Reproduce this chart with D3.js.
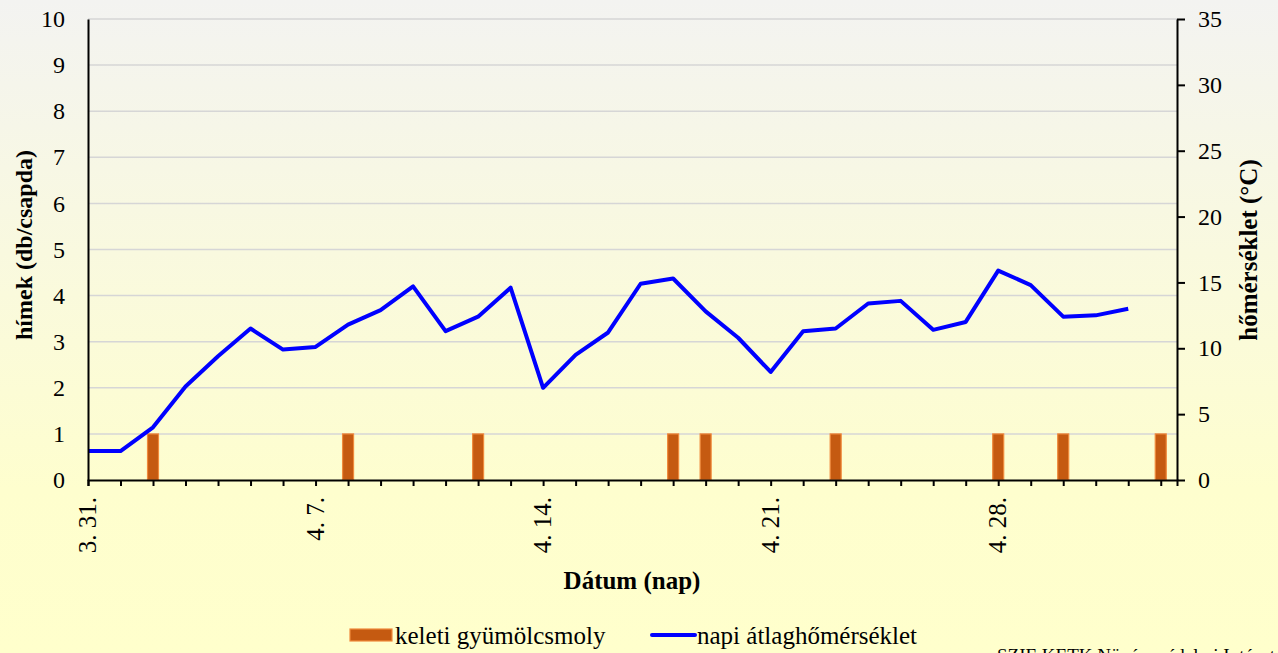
<!DOCTYPE html>
<html>
<head>
<meta charset="utf-8">
<script src="https://cdn.jsdelivr.net/npm/d3@7"></script>
<style>
  html, body { margin: 0; padding: 0; }
  body { width: 1278px; height: 653px; overflow: hidden; }
  text { font-family: "Liberation Serif", "Times New Roman", serif; fill: #000; }
</style>
</head>
<body>
<div id="chart"></div>
<script>
// napok 3.31-től 5.3-ig
const dates = ["03-31","04-01","04-02","04-03","04-04","04-05","04-06","04-07","04-08","04-09",
  "04-10","04-11","04-12","04-13","04-14","04-15","04-16","04-17","04-18","04-19",
  "04-20","04-21","04-22","04-23","04-24","04-25","04-26","04-27","04-28","04-29",
  "04-30","05-01","05-02","05-03"];
// keleti gyümölcsmoly hímek (db/csapda)
const moths = [0,0,1,0,0,0,0,0,1,0, 0,0,1,0,0,0,0,0,1,1, 0,0,0,1,0,0,0,0,1,0, 1,0,0,1];
// napi átlaghőmérséklet (°C), 3.31 - 5.2
const temps = [2.2,2.2,4.0,7.1,9.4,11.5,9.9,10.1,11.8,12.9,
  14.7,11.3,12.4,14.6,7.0,9.5,11.2,14.9,15.3,12.8,
  10.8,8.2,11.3,11.5,13.4,13.6,11.4,12.0,15.9,14.8,
  12.4,12.5,13.0];
const leftTicks = [0,1,2,3,4,5,6,7,8,9,10];
const rightTicks = [0,5,10,15,20,25,30,35];
const labelDates = ["03-31","04-07","04-14","04-21","04-28"];

const width = 1278, height = 653;
const margin = {top: 19, right: 101, bottom: 173, left: 88};
const parse = s => d3.utcParse("%Y-%m-%d")("2009-" + s);
const days = dates.map(parse);

const svg = d3.select("#chart").append("svg")
  .attr("width", width)
  .attr("height", height);

const grad = svg.append("defs").append("linearGradient")
  .attr("id", "bg").attr("x1", 0).attr("y1", 0).attr("x2", 0).attr("y2", 1);
grad.append("stop").attr("offset", "0%").attr("stop-color", "#f3f3f1");
grad.append("stop").attr("offset", "45%").attr("stop-color", "#fafadc");
grad.append("stop").attr("offset", "75%").attr("stop-color", "#fefece");
grad.append("stop").attr("offset", "100%").attr("stop-color", "#ffffcc");
svg.append("rect").attr("width", width).attr("height", height).attr("fill", "url(#bg)");

const x0 = margin.left, x1 = width - margin.right;
const yTop = margin.top, yBot = height - margin.bottom;

const x = d3.scaleUtc()
  .domain([days[0], d3.utcHour.offset(days[days.length - 1], 12)])
  .range([x0, x1]);
const yL = d3.scaleLinear().domain([0, 10]).range([yBot, yTop]);
const yR = d3.scaleLinear().domain([0, 35]).range([yBot, yTop]);

// rácsvonalak
svg.append("g")
  .selectAll("line")
  .data(leftTicks.filter(d => d > 0))
  .join("line")
  .attr("x1", x0).attr("x2", x1)
  .attr("y1", d => yL(d)).attr("y2", d => yL(d))
  .attr("stroke", "#d6d6d6")
  .attr("stroke-width", 1.5);

// oszlopok
const barW = 11;
svg.append("g")
  .selectAll("rect")
  .data(moths.map((v, i) => ({d: days[i], v})).filter(o => o.v > 0))
  .join("rect")
  .attr("x", o => x(o.d) - barW / 2)
  .attr("y", o => yL(o.v))
  .attr("width", barW)
  .attr("height", o => yL(0) - yL(o.v))
  .attr("fill", "#c55a11")
  .attr("stroke", "#f08a3c")
  .attr("stroke-width", 1.2);

// hőmérséklet vonal
const line = d3.line()
  .x((t, i) => x(days[i]))
  .y(t => yR(t));
svg.append("path")
  .datum(temps)
  .attr("d", line)
  .attr("fill", "none")
  .attr("stroke", "#0000ff")
  .attr("stroke-width", 4)
  .attr("stroke-linejoin", "round");

// tengelyek
const xAxis = svg.append("g")
  .attr("transform", `translate(0,${yBot})`)
  .call(d3.axisBottom(x).tickValues(days).tickSize(6).tickFormat(""));
xAxis.select(".domain").attr("stroke-width", 2);
xAxis.selectAll(".tick line").attr("stroke-width", 2);

svg.append("g")
  .selectAll("text")
  .data(labelDates.map(parse))
  .join("text")
  .attr("transform", d => `translate(${x(d) + 8},${yBot + 17}) rotate(-90)`)
  .attr("text-anchor", "end")
  .attr("font-size", 25)
  .text(d3.utcFormat("%-m. %-d."));

const leftAxis = svg.append("g")
  .attr("transform", `translate(${x0},0)`)
  .call(d3.axisLeft(yL).tickValues(leftTicks).tickSize(0).tickPadding(23));
leftAxis.select(".domain").attr("stroke-width", 2);
leftAxis.selectAll("text").attr("font-size", 24).attr("font-family", "Liberation Serif");

const rightAxis = svg.append("g")
  .attr("transform", `translate(${x1},0)`)
  .call(d3.axisRight(yR).tickValues(rightTicks).tickSize(8).tickPadding(13).tickSizeOuter(0));
rightAxis.select(".domain").attr("stroke-width", 2);
rightAxis.selectAll(".tick line").attr("stroke-width", 2);
rightAxis.selectAll("text").attr("font-size", 24).attr("font-family", "Liberation Serif");

// tengelycímek
svg.append("text")
  .attr("x", 632).attr("y", 589)
  .attr("text-anchor", "middle")
  .attr("font-size", 25).attr("font-weight", "bold")
  .text("Dátum (nap)");

svg.append("text")
  .attr("transform", `translate(32,245) rotate(-90)`)
  .attr("text-anchor", "middle")
  .attr("font-size", 24).attr("font-weight", "bold")
  .text("hímek (db/csapda)");

svg.append("text")
  .attr("transform", `translate(1257,250) rotate(-90)`)
  .attr("text-anchor", "middle")
  .attr("font-size", 25).attr("font-weight", "bold")
  .text("hőmérséklet (°C)");

// jelmagyarázat
const leg = svg.append("g");
leg.append("rect")
  .attr("x", 350).attr("y", 629).attr("width", 42).attr("height", 12)
  .attr("fill", "#c55a11").attr("stroke", "#f08a3c").attr("stroke-width", 1.2);
leg.append("text").attr("x", 395).attr("y", 644).attr("font-size", 25).text("keleti gyümölcsmoly");
leg.append("line")
  .attr("x1", 652).attr("x2", 695).attr("y1", 635).attr("y2", 635)
  .attr("stroke", "#0000ff").attr("stroke-width", 4).attr("stroke-linecap", "round");
leg.append("text").attr("x", 697).attr("y", 644).attr("font-size", 25).text("napi átlaghőmérséklet");

svg.append("text")
  .attr("x", 997).attr("y", 662)
  .attr("font-size", 19)
  .text("SZIE KETK Növényvédelmi Intézet");
</script>
</body>
</html>
